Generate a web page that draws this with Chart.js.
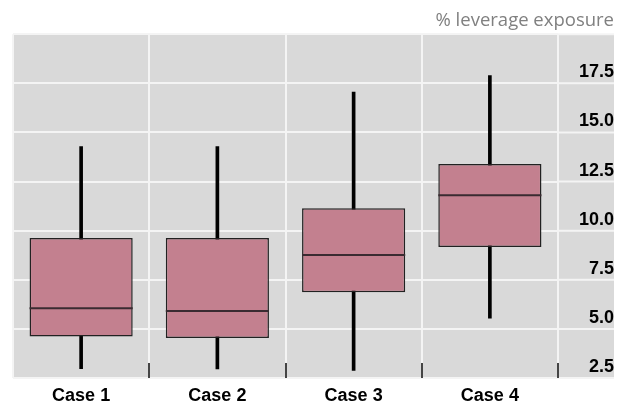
<!DOCTYPE html>
<html>
<head>
<meta charset="utf-8">
<script src="https://cdn.jsdelivr.net/npm/chart.js@4"></script>
<style>
  html, body { margin: 0; padding: 0; background: #fff; }
  #wrap { width: 623px; height: 405px; }
</style>
</head>
<body>
<div id="wrap"><canvas id="chart" width="623" height="405"></canvas></div>
<script>
// Data
const cases = ['Case 1', 'Case 2', 'Case 3', 'Case 4'];
const whiskerLow = [2.97, 2.96, 2.88, 5.54];
const quartile1 = [4.61, 4.53, 6.86, 9.17];
const medians = [6.05, 5.91, 8.76, 11.80];
const quartile3 = [9.62, 9.62, 11.14, 13.39];
const whiskerHigh = [14.28, 14.28, 17.05, 17.90];
const yTicks = [2.5, 5.0, 7.5, 10.0, 12.5, 15.0, 17.5, 20.0];

const boxData = cases.map((c, i) => [quartile1[i], quartile3[i]]);
const whiskerData = cases.map((c, i) => [whiskerLow[i], whiskerHigh[i]]);

// Gray panel, extended grid lines, bottom ticks and medians
const panelPlugin = {
  id: 'panel',
  beforeDraw(chart) {
    const { ctx, chartArea, scales } = chart;
    const y = scales.y;
    ctx.save();
    ctx.fillStyle = '#d9d9d9';
    ctx.fillRect(chartArea.left, chartArea.top, y.right - chartArea.left, chartArea.bottom - chartArea.top);
    ctx.strokeStyle = '#f4f4f4';
    ctx.lineWidth = 2;
    yTicks.forEach(v => {
      const py = y.getPixelForValue(v);
      ctx.beginPath();
      ctx.moveTo(chartArea.right, py);
      ctx.lineTo(y.right, py);
      ctx.stroke();
    });
    ctx.restore();
  },
  afterDatasetsDraw(chart) {
    const { ctx, chartArea, scales } = chart;
    const x = scales.x;
    const step = (chartArea.right - chartArea.left) / cases.length;
    ctx.save();
    ctx.strokeStyle = '#444';
    ctx.lineWidth = 2;
    for (let i = 1; i <= cases.length; i++) {
      const px = Math.round(x.getPixelForValue(i - 1) + step / 2);
      ctx.beginPath();
      ctx.moveTo(px, chartArea.bottom - 15);
      ctx.lineTo(px, chartArea.bottom);
      ctx.stroke();
    }
    // median lines
    const meta = chart.getDatasetMeta(0);
    ctx.strokeStyle = '#3a2b31';
    ctx.lineWidth = 2;
    meta.data.forEach((bar, i) => {
      const py = scales.y.getPixelForValue(medians[i]);
      ctx.beginPath();
      ctx.moveTo(bar.x - bar.width / 2, py);
      ctx.lineTo(bar.x + bar.width / 2, py);
      ctx.stroke();
    });
    ctx.restore();
  }
};

const chart = new Chart(document.getElementById('chart'), {
  type: 'bar',
  data: {
    labels: cases,
    datasets: [
      {
        label: 'Box',
        data: boxData,
        backgroundColor: '#c3808f',
        borderColor: '#222',
        borderWidth: 1.5,
        borderSkipped: false,
        grouped: false,
        categoryPercentage: 1,
        barPercentage: 0.757,
        order: 0
      },
      {
        label: 'Whisker',
        data: whiskerData,
        backgroundColor: '#000',
        borderWidth: 0,
        grouped: false,
        barThickness: 3,
        order: 1
      }
    ]
  },
  options: {
    responsive: false,
    animation: false,
    layout: { padding: { left: 13, right: 9, top: 0, bottom: 0 } },
    plugins: {
      legend: { display: false },
      tooltip: { enabled: false },
      title: {
        display: true,
        text: '% leverage exposure',
        align: 'end',
        color: '#808080',
        font: { family: 'Open Sans', size: 18.5, weight: 'normal', lineHeight: 1.2 },
        padding: { top: 10, bottom: 2 }
      }
    },
    scales: {
      x: {
        offset: true,
        afterFit(scale) { scale.height = 27; },
        grid: { color: '#f4f4f4', lineWidth: 2, offset: true, drawTicks: false },
        border: { display: false },
        ticks: {
          color: '#000',
          padding: 9,
          font: { family: 'Liberation Sans', size: 18, weight: 'bold', lineHeight: 1 }
        }
      },
      y: {
        position: 'right',
        min: 2.5,
        max: 20,
        afterFit(scale) { scale.width = 56; },
        afterBuildTicks(scale) { scale.ticks = yTicks.map(v => ({ value: v })); },
        grid: { color: '#f4f4f4', lineWidth: 2, drawTicks: false },
        border: { display: false },
        ticks: {
          color: '#000',
          crossAlign: 'far',
          padding: 14,
          labelOffset: -11,
          font: { family: 'Liberation Sans', size: 18, weight: 'bold' },
          callback: v => (v >= 20 ? '' : v.toFixed(1))
        }
      }
    }
  },
  plugins: [panelPlugin]
});
</script>
</body>
</html>
